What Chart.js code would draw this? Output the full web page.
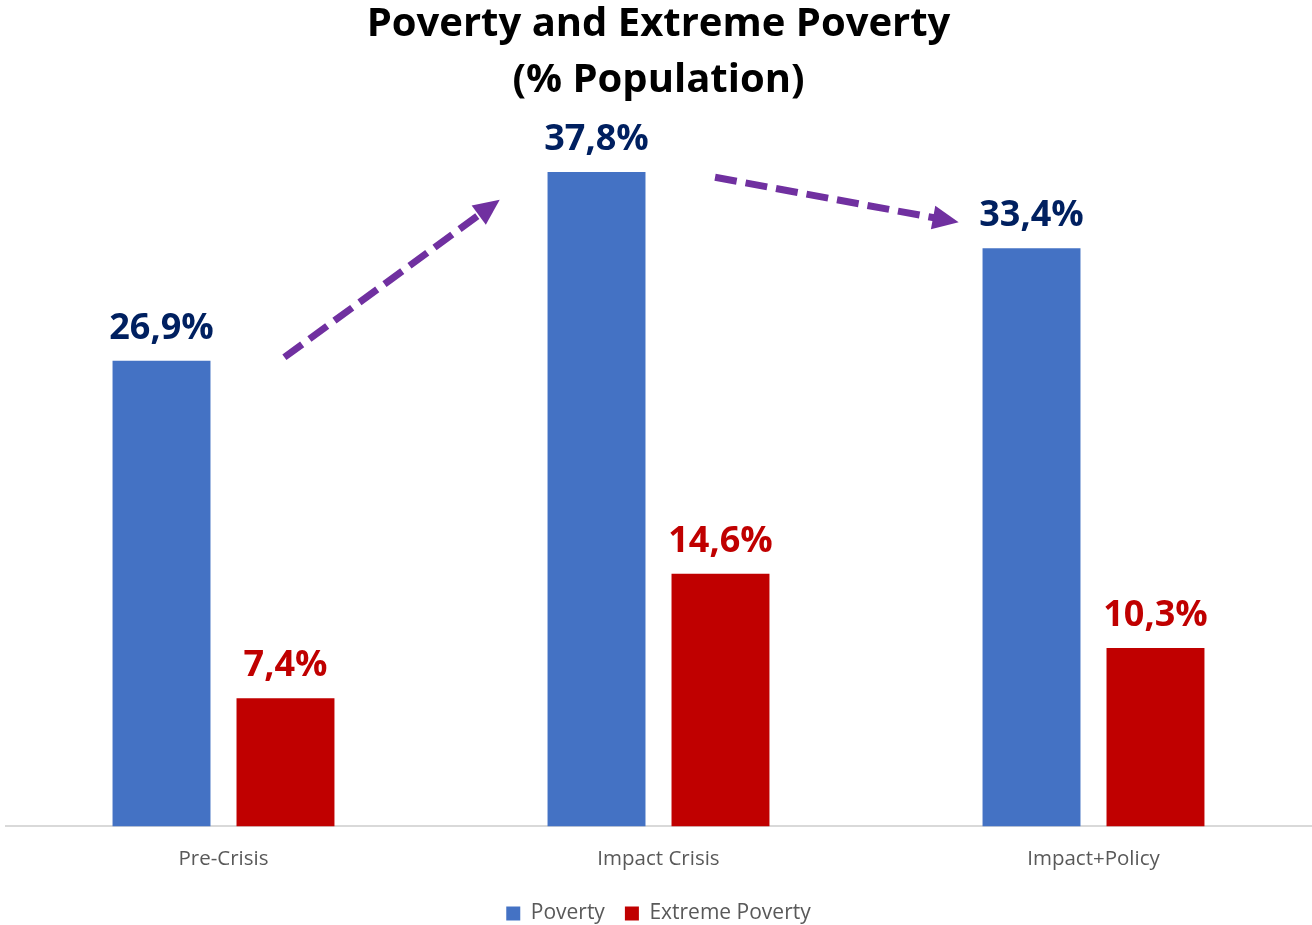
<!DOCTYPE html>
<html lang="en">
<head>
  <meta charset="UTF-8" />
  <title>Poverty and Extreme Poverty</title>
  <script src="https://cdn.jsdelivr.net/npm/chart.js"></script>
  <style>
    html, body { margin: 0; padding: 0; background: #fff; }
    #wrap { width: 1312px; height: 925px; }
  </style>
</head>
<body>
  <div id="wrap"><canvas id="chart"></canvas></div>

  <script>
    // data
    const categories = ['Pre-Crisis', 'Impact Crisis', 'Impact+Policy'];
    const poverty = [26.9, 37.8, 33.4];
    const extremePoverty = [7.4, 14.6, 10.3];
    // arrows in data units: [fromIndex, fromValue, toIndex, toValue]
    const arrows = [
      [0.14, 27.1, 0.635, 36.2],
      [1.13, 37.5, 1.69, 34.9]
    ];

    const fontFamily = "'Open Sans', sans-serif";

    // value labels above the bars
    const valueLabels = {
      id: 'valueLabels',
      afterDatasetsDraw(chart) {
        const ctx = chart.ctx;
        const colors = ['#002060', '#C00000'];
        ctx.save();
        ctx.font = "bold 36px " + fontFamily;
        ctx.textAlign = 'center';
        ctx.textBaseline = 'alphabetic';
        chart.data.datasets.forEach((ds, i) => {
          chart.getDatasetMeta(i).data.forEach((bar, j) => {
            ctx.fillStyle = colors[i];
            ctx.fillText(ds.data[j].toFixed(1).replace('.', ',') + '%', bar.x, bar.y - 22);
          });
        });
        ctx.restore();
      }
    };

    // dashed purple arrows
    const trendArrows = {
      id: 'trendArrows',
      afterDatasetsDraw(chart) {
        const ctx = chart.ctx;
        const xs = chart.scales.x, ys = chart.scales.y;
        ctx.save();
        ctx.strokeStyle = '#7030A0';
        ctx.fillStyle = '#7030A0';
        ctx.lineWidth = 7;
        arrows.forEach(a => {
          const x1 = xs.getPixelForValue(a[0]), y1 = ys.getPixelForValue(a[1]);
          const x2 = xs.getPixelForValue(a[2]), y2 = ys.getPixelForValue(a[3]);
          const ang = Math.atan2(y2 - y1, x2 - x1);
          const head = 26;
          const bx = x2 - Math.cos(ang) * head, by = y2 - Math.sin(ang) * head;
          ctx.setLineDash([22, 9]);
          ctx.beginPath();
          ctx.moveTo(x1, y1);
          ctx.lineTo(bx + Math.cos(ang) * 4, by + Math.sin(ang) * 4);
          ctx.stroke();
          ctx.setLineDash([]);
          ctx.beginPath();
          ctx.moveTo(x2, y2);
          ctx.lineTo(bx + Math.cos(ang + Math.PI / 2) * 12, by + Math.sin(ang + Math.PI / 2) * 12);
          ctx.lineTo(bx + Math.cos(ang - Math.PI / 2) * 12, by + Math.sin(ang - Math.PI / 2) * 12);
          ctx.closePath();
          ctx.fill();
        });
        ctx.restore();
      }
    };

    const ctx = document.getElementById('chart').getContext('2d');
    new Chart(ctx, {
      type: 'bar',
      data: {
        labels: categories,
        datasets: [{
          label: 'Poverty',
          data: poverty,
          backgroundColor: '#4472C4',
          categoryPercentage: 0.57,
          barPercentage: 0.79
        }, {
          label: 'Extreme Poverty',
          data: extremePoverty,
          backgroundColor: '#C00000',
          categoryPercentage: 0.57,
          barPercentage: 0.79
        }]
      },
      options: {
        responsive: true,
        maintainAspectRatio: false,
        animation: false,
        layout: { padding: { left: 6, right: 1, top: -3, bottom: -9 } },
        plugins: {
          title: {
            display: true,
            text: ['Poverty and Extreme Poverty', '(% Population)'],
            color: '#000',
            font: { family: fontFamily, size: 40, weight: 'bold', lineHeight: 1.4 },
            padding: { top: 0, bottom: 25 }
          },
          legend: {
            position: 'bottom',
            labels: {
              color: '#595959',
              font: { family: fontFamily, size: 21 },
              boxWidth: 14,
              boxHeight: 14,
              padding: 20
            }
          },
          tooltip: { enabled: false }
        },
        scales: {
          x: {
            grid: { display: false },
            border: { color: '#D9D9D9', width: 2 },
            ticks: {
              color: '#595959',
              font: { family: fontFamily, size: 20.5 },
              padding: 12
            }
          },
          y: {
            display: false,
            min: 0,
            max: 40
          }
        }
      },
      plugins: [valueLabels, trendArrows]
    });
  </script>
</body>
</html>
